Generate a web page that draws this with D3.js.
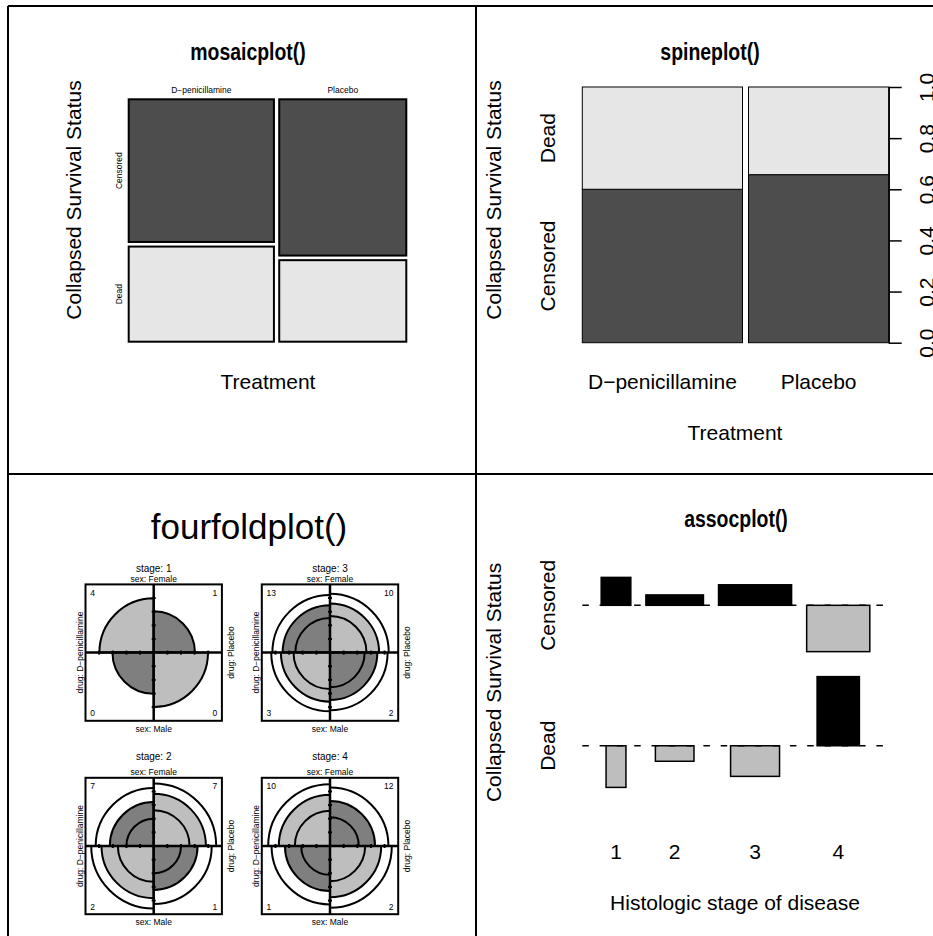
<!DOCTYPE html>
<html><head><meta charset="utf-8">
<script src="https://cdn.jsdelivr.net/npm/d3@7"></script>
<style>body{margin:0;background:#fff}svg{display:block}</style>
</head><body><svg id="c" width="933" height="936"></svg>
<script>
// ---------------- DATA ----------------
const treatments = ["D\u2212penicillamine", "Placebo"];
const statuses = ["Censored", "Dead"];
const treatmentCensored = [24, 23];
const treatmentDead = [16, 12];

const stages = ["1", "2", "3", "4"];
// fourfold counts per stage (sex x drug)
const ffFemaleDpen    = [4, 7, 13, 10];
const ffFemalePlacebo = [1, 7, 10, 12];
const ffMaleDpen      = [0, 2, 3, 1];
const ffMalePlacebo   = [0, 1, 2, 2];

// assocplot table: histologic stage x survival status
const assocCensored = [12, 36, 60, 30];
const assocDead     = [1, 13, 19, 29];

const spineTicks = [0, 0.2, 0.4, 0.6, 0.8, 1.0];

// ---------------- HELPERS ----------------
const svg = d3.select("#c");
const FONT = '"Liberation Sans", Arial, Helvetica, sans-serif';
const DARK = "#4D4D4D", LIGHT = "#E6E6E6", GREY = "#BEBEBE", GREY50 = "#7F7F7F";

function label(g, x, y, s, size, o = {}) {
  const t = g.append("text").attr("x", x).attr("y", y).attr("dy", o.dy || "0.35em")
    .attr("text-anchor", o.anchor || "middle").attr("font-size", size)
    .attr("font-family", FONT).attr("fill", "#000").text(s);
  if (o.bold) t.attr("font-weight", "bold");
  if (o.rot) t.attr("transform", `rotate(${o.rot},${x},${y})`);
  return t;
}
function title(g, x, y, s) {
  return g.append("text").attr("x", 0).attr("y", 0).attr("dy", "0.35em")
    .attr("transform", `translate(${x},${y}) scale(0.81,1)`)
    .attr("text-anchor", "middle").attr("font-size", 24).attr("font-weight", "bold")
    .attr("font-family", FONT).attr("fill", "#000").text(s);
}

// ---------------- FRAME ----------------
const frame = svg.append("g").attr("stroke", "#000").attr("stroke-width", 2);
frame.append("line").attr("x1", 8).attr("x2", 933).attr("y1", 6).attr("y2", 6);
frame.append("line").attr("x1", 8).attr("x2", 8).attr("y1", 6).attr("y2", 936);
frame.append("line").attr("x1", 476).attr("x2", 476).attr("y1", 6).attr("y2", 936);
frame.append("line").attr("x1", 8).attr("x2", 933).attr("y1", 474).attr("y2", 474);

// ---------------- MOSAIC ----------------
(function () {
  const g = svg.append("g");
  const x0 = 128.7, x1 = 406.3, y0 = 99.3, y1 = 341.7, gx = 5.3, gy = 4.6;
  const totals = treatments.map((t, i) => treatmentCensored[i] + treatmentDead[i]);
  const N = d3.sum(totals);
  const mx = d3.scaleLinear().domain([0, N]).range([0, x1 - x0 - gx * (treatments.length - 1)]);
  let cum = 0;
  treatments.forEach((t, i) => {
    const xl = x0 + mx(cum) + i * gx, w = mx(totals[i]);
    cum += totals[i];
    const my = d3.scaleLinear().domain([0, totals[i]]).range([0, y1 - y0 - gy]);
    const vals = [treatmentCensored[i], treatmentDead[i]];
    let yc = y0;
    vals.forEach((v, j) => {
      g.append("rect").attr("x", xl).attr("y", yc).attr("width", w).attr("height", my(v))
        .attr("fill", j === 0 ? DARK : LIGHT).attr("stroke", "#000").attr("stroke-width", 2);
      if (i === 0) label(g, 119, yc + my(v) / 2, statuses[j], 8.5, { rot: -90 });
      yc += my(v) + gy;
    });
    label(g, xl + w / 2, 90, t, 8.5);
  });
  title(g, 248, 52, "mosaicplot()");
  label(g, 268, 382, "Treatment", 21);
  label(g, 74, 200, "Collapsed Survival Status", 21, { rot: -90 });
})();

// ---------------- SPINEPLOT ----------------
(function () {
  const g = svg.append("g");
  const totals = treatments.map((t, i) => treatmentCensored[i] + treatmentDead[i]);
  const N = d3.sum(totals);
  const off = 0.02;
  const sx = d3.scaleLinear().domain([0, 1 + off * (treatments.length - 1)]).range([582.3, 888.7]);
  const sy = d3.scaleLinear().domain([0, 1]).range([342.7, 87]);
  let cum = 0;
  treatments.forEach((t, i) => {
    const a = cum + i * off, b = a + totals[i] / N;
    cum += totals[i] / N;
    const pc = treatmentCensored[i] / totals[i];
    g.append("rect").attr("x", sx(a)).attr("width", sx(b) - sx(a)).attr("y", sy(pc)).attr("height", sy(0) - sy(pc))
      .attr("fill", DARK).attr("stroke", "#000").attr("stroke-width", 1);
    g.append("rect").attr("x", sx(a)).attr("width", sx(b) - sx(a)).attr("y", sy(1)).attr("height", sy(pc) - sy(1))
      .attr("fill", LIGHT).attr("stroke", "#000").attr("stroke-width", 1);
    label(g, (sx(a) + sx(b)) / 2, 382, t, 21);
    if (i === 0) {
      label(g, 548, sy(pc / 2), statuses[0], 21, { rot: -90 });
      label(g, 548, sy((pc + 1) / 2), statuses[1], 21, { rot: -90 });
    }
  });
  const ax = g.append("g").attr("transform", `translate(${sx.range()[1]},0)`)
    .call(d3.axisRight(sy).tickValues(spineTicks).tickFormat(d3.format(".1f")).tickSize(13).tickSizeOuter(0));
  ax.selectAll("path,line").attr("stroke", "#000").attr("stroke-width", 1.5);
  ax.selectAll("text").attr("x", 0).attr("y", 0).attr("dy", "0")
    .attr("transform", "translate(45,0) rotate(-90)").attr("text-anchor", "middle")
    .attr("font-size", 21).attr("font-family", FONT).attr("fill", "#000");
  title(g, 710, 52, "spineplot()");
  label(g, 735, 433, "Treatment", 21);
  label(g, 494, 200, "Collapsed Survival Status", 21, { rot: -90 });
})();

// ---------------- FOURFOLD ----------------
(function () {
  const g0 = svg.append("g");
  label(g0, 249, 527, "fourfoldplot()", 35);
  const U = 68.2;
  const cxs = d3.scaleLinear().domain([0, 1]).range([153.7, 330]);
  const cys = d3.scaleLinear().domain([0, 1]).range([652.6, 846]);
  const u = d3.scaleLinear().domain([0, 1]).range([0, U]);
  const quads = [ // TL, TR, BL, BR
    { a0: -Math.PI / 2, a1: 0, diag: true },
    { a0: 0, a1: Math.PI / 2, diag: false },
    { a0: Math.PI, a1: 1.5 * Math.PI, diag: false },
    { a0: Math.PI / 2, a1: Math.PI, diag: true }
  ];
  const diagR = th => Math.sqrt(Math.sqrt(th) / (1 + Math.sqrt(th)));
  const offR = th => Math.sqrt(1 / (1 + Math.sqrt(th)));
  stages.forEach((s, i) => {
    const col = Math.floor(i / 2), row = i % 2;
    const g = g0.append("g").attr("transform", `translate(${cxs(col)},${cys(row)})`);
    const cells = [ffFemaleDpen[i], ffFemalePlacebo[i], ffMaleDpen[i], ffMalePlacebo[i]];
    let f = cells.slice();
    if (f.some(v => v === 0)) f = f.map(v => v + 0.5);
    const or = (f[0] * f[3]) / (f[1] * f[2]);
    const se = Math.sqrt(d3.sum(f, v => 1 / v));
    g.append("rect").attr("x", u(-1)).attr("y", u(-1)).attr("width", u(2)).attr("height", u(2))
      .attr("fill", "#fff");
    quads.forEach(q => {
      const r = q.diag ? diagR(or) : offR(or);
      const light = (or > 1) === q.diag;
      g.append("path").attr("d", d3.arc().innerRadius(0).outerRadius(u(r)).startAngle(q.a0).endAngle(q.a1)())
        .attr("fill", light ? GREY : GREY50).attr("stroke", "#000").attr("stroke-width", 2)
        .attr("stroke-linejoin", "round");
    });
    if (cells.every(v => v > 0)) {
      const z = 1.959964;
      [or * Math.exp(-z * se), or * Math.exp(z * se)].forEach(th => {
        quads.forEach(q => {
          const r = u(q.diag ? diagR(th) : offR(th));
          const p = d3.path();
          p.arc(0, 0, r, q.a0 - Math.PI / 2, q.a1 - Math.PI / 2);
          g.append("path").attr("d", p.toString()).attr("fill", "none").attr("stroke", "#000").attr("stroke-width", 2);
        });
      });
    }
    g.append("rect").attr("x", u(-1)).attr("y", u(-1)).attr("width", u(2)).attr("height", u(2))
      .attr("fill", "none").attr("stroke", "#000").attr("stroke-width", 2);
    g.append("line").attr("x1", u(-1)).attr("x2", u(1)).attr("y1", 0).attr("y2", 0).attr("stroke", "#000").attr("stroke-width", 2.5);
    g.append("line").attr("y1", u(-1)).attr("y2", u(1)).attr("x1", 0).attr("x2", 0).attr("stroke", "#000").attr("stroke-width", 2.5);
    d3.range(-4, 5).filter(k => k !== 0).forEach(k => {
      const t = u(k * 0.2);
      g.append("line").attr("x1", t).attr("x2", t).attr("y1", -2).attr("y2", 2).attr("stroke", "#000").attr("stroke-width", 2);
      g.append("line").attr("y1", t).attr("y2", t).attr("x1", -2).attr("x2", 2).attr("stroke", "#000").attr("stroke-width", 2);
    });
    label(g, 0, row === 0 ? -84.3 : -90, "stage: " + s, 10);
    label(g, 0, -74, "sex: Female", 8.5);
    label(g, 0, 76, "sex: Male", 8.5);
    label(g, -74, 0, "drug: D\u2212penicillamine", 8.5, { rot: -90 });
    label(g, 77, 0, "drug: Placebo", 8.5, { rot: -90 });
    label(g, u(-0.93), u(-0.88), String(cells[0]), 8.5, { anchor: "start" });
    label(g, u(0.93), u(-0.88), String(cells[1]), 8.5, { anchor: "end" });
    label(g, u(-0.93), u(0.89), String(cells[2]), 8.5, { anchor: "start" });
    label(g, u(0.93), u(0.89), String(cells[3]), 8.5, { anchor: "end" });
  });
})();

// ---------------- ASSOCPLOT ----------------
(function () {
  const g = svg.append("g");
  const space = 0.27;
  // R reverses the column order: f = [Dead, Censored]
  const f = stages.map((s, i) => [assocDead[i], assocCensored[i]]);
  const colNames = [statuses[1], statuses[0]];
  const n = d3.sum(f.flat());
  const rs = f.map(r => d3.sum(r));
  const cs = [0, 1].map(j => d3.sum(f, r => r[j]));
  const e = f.map((r, i) => r.map((v, j) => rs[i] * cs[j] / n));
  const d = f.map((r, i) => r.map((v, j) => (v - e[i][j]) / Math.sqrt(e[i][j])));
  const se = e.map(r => r.map(Math.sqrt));
  const xw = se.map(r => d3.max(r));
  const yh = [0, 1].map(j => d3.max(d, r => r[j]) - d3.min(d, r => r[j]));
  const xd = d3.mean(xw) * space, yd = d3.mean(yh) * space;
  const xlim = [0, d3.sum(xw) + f.length * xd];
  const ylim = [0, d3.sum(yh) + 2 * yd];
  const xr = d3.cumsum(xw.map(w => w + xd));
  const xm = xr.map((v, i) => ((i ? xr[i - 1] : 0) + v) / 2);
  const yu = d3.cumsum(yh.map(h => h + yd));
  const ym = yu.map((v, j) => v - Math.max(0, d3.max(d, r => r[j])) - yd / 2);
  const px = 0.04 * (xlim[1] - xlim[0]), py = 0.04 * (ylim[1] - ylim[0]);
  const X = d3.scaleLinear().domain([xlim[0] - px, xlim[1] + px]).range([582.3, 888.7]);
  const Y = d3.scaleLinear().domain([ylim[0] - py, ylim[1] + py]).range([809.3, 555.5]);
  f.forEach((r, i) => r.forEach((v, j) => {
    const xa = X(xm[i] - se[i][j] / 2), xb = X(xm[i] + se[i][j] / 2);
    const ya = Y(ym[j]), yb = Y(ym[j] + d[i][j]);
    g.append("rect").attr("x", xa).attr("width", xb - xa).attr("y", Math.min(ya, yb)).attr("height", Math.abs(yb - ya))
      .attr("fill", d[i][j] < 0 ? GREY : "#000").attr("stroke", "#000").attr("stroke-width", 1.5);
  }));
  ym.forEach(v => g.append("line").attr("x1", X.range()[0]).attr("x2", X.range()[1]).attr("y1", Y(v)).attr("y2", Y(v))
    .attr("stroke", "#000").attr("stroke-width", 1.5).attr("stroke-dasharray", "6.5,10.8"));
  xm.forEach((v, i) => label(g, X(v), 852, stages[i], 21));
  ym.forEach((v, j) => label(g, 548, Y(v), colNames[j], 21, { rot: -90 }));
  title(g, 736, 519, "assocplot()");
  label(g, 735, 903, "Histologic stage of disease", 21);
  label(g, 494, (Y.range()[0] + Y.range()[1]) / 2, "Collapsed Survival Status", 21, { rot: -90 });
})();
</script></body></html>
